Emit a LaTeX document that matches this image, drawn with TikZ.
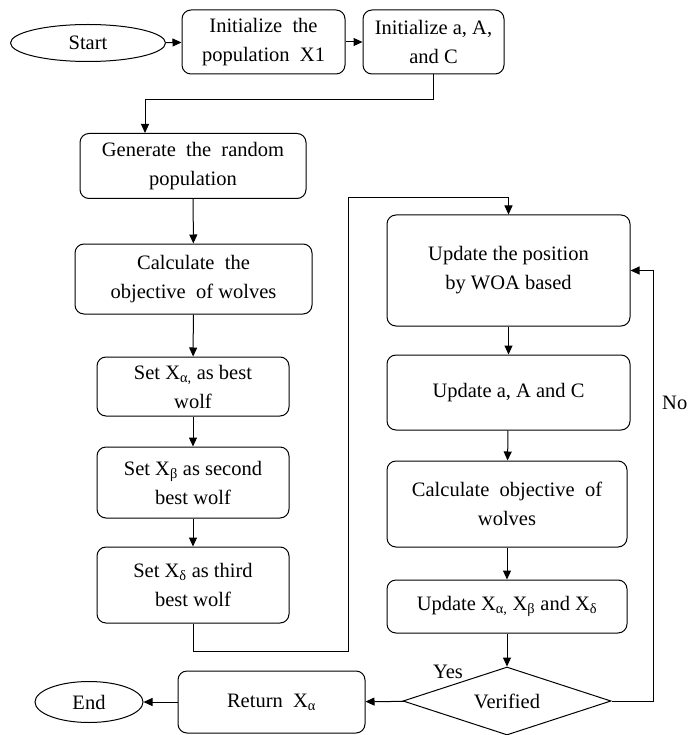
\documentclass[tikz,border=0pt]{standalone}
\usepackage{fontspec}
\setmainfont{Liberation Serif}
\usetikzlibrary{arrows.meta,shapes.geometric}

\begin{document}
\begin{tikzpicture}[x=1pt,y=-1pt,
	box_node/.style={draw,rounded corners=9pt,align=center,inner sep=2pt,line width=1pt,font=\fontsize{20.5}{29}\selectfont},
	oval_node/.style={ellipse,draw,inner sep=0pt,line width=1pt,font=\fontsize{20.5}{29}\selectfont},
	flow/.style={-{Triangle[length=9pt,width=8pt]},line width=1pt}]
	\useasboundingbox (0,0) rectangle (689,735);

	\node[oval_node,minimum width=155,minimum height=37] (start) at (88,43) {Start};
	\node[box_node,minimum width=163,minimum height=64] (initpop) at (263.5,42) {Initialize\ \ the\\population\ \ X1};
	\node[box_node,minimum width=141,minimum height=64] (initaac) at (433.5,42) {Initialize a, A,\\and C};
	\node[box_node,minimum width=226,minimum height=65] (gen) at (193,166) {Generate\ \ the\ \ random\\population};
	\node[box_node,minimum width=237,minimum height=70] (calc) at (193.5,279) {Calculate\ \ the\\objective\ \ of wolves};
	\node[box_node,minimum width=192,minimum height=59] (seta) at (193,386.5) {Set X\textsubscript{α,} as best\\wolf};
	\node[box_node,minimum width=192,minimum height=71] (setb) at (193,482.5) {Set X\textsubscript{β} as second\\best wolf};
	\node[box_node,minimum width=192,minimum height=76] (setd) at (193,585) {Set X\textsubscript{δ} as third\\best wolf};

	\node[box_node,minimum width=243,minimum height=111] (upos) at (508.5,270.5) {Update the position\\by WOA based};
	\node[box_node,minimum width=243,minimum height=75] (uaac) at (508.5,392.5) {Update a, A and C};
	\node[box_node,minimum width=240,minimum height=86] (cobj) at (507,504) {Calculate\ \ objective\ \ of\\wolves};
	\node[box_node,minimum width=240,minimum height=53] (ux) at (507,606.5) {Update X\textsubscript{α,} X\textsubscript{β} and X\textsubscript{δ}};
	\node[diamond,draw,line width=1pt,aspect=3,inner sep=0pt,minimum width=208,minimum height=68,font=\fontsize{20.5}{29}\selectfont] (ver) at (507,701) {Verified};
	\node[box_node,minimum width=187,minimum height=62] (ret) at (271.5,702) {Return\ \ X\textsubscript{α}};
	\node[oval_node,minimum width=108,minimum height=41] (end) at (89,702) {End};

	\node[font=\fontsize{20.5}{29}\selectfont] (yes) at (448,672) {Yes};
	\node[font=\fontsize{20.5}{29}\selectfont,anchor=west,inner sep=0pt] (no) at (662,403) {No};

	\coordinate (c1) at (145,100);
	\coordinate (k1) at (348,651);
	\coordinate (k2) at (348,198);
	\coordinate (n1) at (653,701);

	\draw[flow] (start) -- (initpop);
	\draw[flow] (initpop) -- (initaac);
	\draw[flow] (initaac.south) |- (c1) -- (c1 |- gen.north);
	\draw[flow] (gen) -- (calc);
	\draw[flow] (calc) -- (seta);
	\draw[flow] (seta) -- (setb);
	\draw[flow] (setb) -- (setd);
	\draw[flow] (setd.south) |- (k1) -- (k2) -| (upos.north);
	\draw[flow] (upos) -- (uaac);
	\draw[flow] (uaac) -- (cobj);
	\draw[flow] (cobj) -- (ux);
	\draw[flow] (ux) -- (ver);
	\draw[flow] (ver.east) -- (n1) |- (upos.east);
	\draw[flow] (ver) -- (ret);
	\draw[flow] (ret) -- (end);
\end{tikzpicture}
\end{document}
